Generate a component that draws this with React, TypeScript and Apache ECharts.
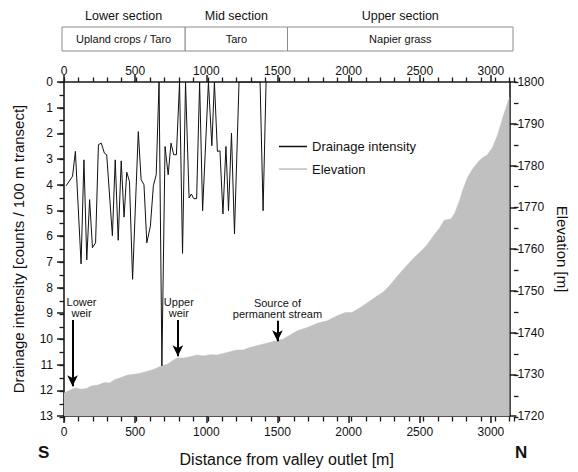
import React, { useEffect, useRef } from 'react';
import * as echarts from 'echarts';

// Drainage intensity (counts / 100 m transect) vs distance from valley outlet (m)
const drainDist = [15, 60, 80, 120, 140, 160, 180, 200, 222, 242, 262, 284, 300, 340, 360, 381, 402, 422, 441, 460, 482, 522, 542, 562, 582, 607, 628, 648, 668, 688, 710, 732, 752, 771, 790, 812, 833, 854, 879, 895, 912, 932, 953, 974, 1015, 1039, 1057, 1078, 1096, 1117, 1138, 1156, 1177, 1198, 1230, 1378, 1399, 1420];
const drainVal = [4.04, 3.67, 2.70, 7.08, 3.03, 6.92, 4.58, 6.45, 6.26, 2.44, 2.38, 2.77, 2.83, 5.98, 3.03, 6.16, 3.07, 5.26, 3.51, 3.87, 7.68, 1.93, 3.80, 4.00, 6.26, 5.61, 4.04, 3.61, 0, 11.05, 2.51, 3.61, 2.38, 2.83, 2.83, 0, 6.67, 0, 4.51, 4.36, 4.54, 4.54, 0, 5.01, 0, 2.48, 0, 2.70, 2.68, 5.14, 2.51, 5.01, 1.99, 5.91, 0, 0, 5.01, 0];

// Elevation profile (m)
const elevDist = [0, 30, 76, 123, 158, 192, 239, 285, 320, 355, 401, 447, 494, 529, 575, 633, 679, 726, 760, 795, 841, 888, 934, 981, 1027, 1073, 1120, 1166, 1212, 1259, 1305, 1351, 1398, 1444, 1490, 1537, 1583, 1641, 1711, 1780, 1850, 1919, 1977, 2024, 2082, 2140, 2197, 2244, 2290, 2348, 2406, 2464, 2510, 2545, 2591, 2638, 2672, 2719, 2745, 2782, 2800, 2835, 2870, 2916, 2951, 2974, 3009, 3044, 3079, 3102, 3130];
const elevVal = [1725.5, 1726.0, 1726.7, 1726.4, 1726.6, 1727.2, 1727.4, 1728.0, 1727.9, 1728.7, 1729.2, 1729.8, 1730.0, 1730.2, 1730.6, 1731.2, 1731.9, 1732.4, 1733.2, 1733.9, 1733.9, 1734.2, 1734.6, 1734.4, 1734.7, 1734.6, 1735.0, 1735.4, 1735.8, 1735.8, 1736.4, 1736.8, 1737.2, 1737.6, 1738.0, 1738.4, 1739.3, 1740.4, 1741.2, 1742.2, 1742.8, 1744.0, 1744.8, 1744.8, 1746.0, 1747.3, 1748.7, 1749.7, 1751.3, 1753.7, 1755.9, 1758.1, 1759.5, 1760.7, 1762.9, 1765.0, 1766.9, 1767.2, 1768.5, 1771.8, 1773.9, 1777.1, 1779.1, 1781.1, 1782.1, 1782.5, 1784.2, 1787.0, 1791.0, 1793.4, 1796.3];

// Sections band
const sectionStart = [0, 855, 1565];
const sectionEnd = [855, 1565, 3130];
const sectionNames = ['Lower section', 'Mid section', 'Upper section'];
const sectionCrops = ['Upland crops / Taro', 'Taro', 'Napier grass'];

// Annotations (arrows)
const annotDist = [60, 800, 1500];
const annotTop = [1743.0, 1743.0, 1742.8];
const annotBottom = [1727.1, 1734.3, 1737.9];
const annotText = ['Lower\nweir', 'Upper\nweir', 'Source of\npermanent stream'];
const annotShift = [9, 1, 0];

const FONT = '"Liberation Sans", Arial, Helvetica, sans-serif';
const AXIS_COLOR = '#1a1a1a';
const plain = (v: number) => String(v);

export default function App() {
  const ref = useRef<HTMLDivElement>(null);

  useEffect(() => {
    if (!ref.current) return;
    const chart = echarts.init(ref.current, undefined, { renderer: 'svg' });

    const lineStyle = { color: AXIS_COLOR, width: 1.6 };
    const tickStyle = { color: AXIS_COLOR, width: 1.5 };
    const minorStyle = { color: AXIS_COLOR, width: 1.3 };
    const MAJOR = 7;
    const MINOR = 4.5;

    const xCommon = {
      type: 'value',
      gridIndex: 0,
      min: 0,
      max: 3130,
      interval: 500,
      axisLine: { show: true, onZero: false, lineStyle },
      axisTick: { show: true, length: MAJOR, lineStyle: tickStyle },
      splitLine: { show: false },
    };

    // minor-tick axes on an overlapping grid (grid 2)
    const minorX = (position: string) => ({
      type: 'value',
      gridIndex: 2,
      position,
      min: 0,
      max: 3130,
      interval: 100,
      axisLine: { show: false, onZero: false },
      axisTick: { show: true, length: MINOR, lineStyle: minorStyle },
      axisLabel: { show: false },
      splitLine: { show: false },
    });

    const option: any = {
      animation: false,
      backgroundColor: '#fff',
      textStyle: { fontFamily: FONT },
      grid: [
        { left: 64, right: 64, top: 82, bottom: 55 },
        { left: 62, right: 65, top: 27, height: 24 },
        { left: 64, right: 64, top: 82, bottom: 55 },
      ],
      legend: {
        orient: 'vertical',
        left: 274,
        top: 135,
        itemWidth: 28,
        itemHeight: 1.5,
        itemGap: 9.6,
        icon: 'rect',
        textStyle: { fontSize: 13, color: '#111', fontFamily: FONT },
        data: [
          { name: 'Drainage intensity', itemStyle: { color: '#111' } },
          { name: 'Elevation', itemStyle: { color: '#bdbdbd' } },
        ],
      },
      xAxis: [
        {
          ...xCommon,
          position: 'bottom',
          axisLabel: { fontSize: 12, color: '#111', margin: 10, showMaxLabel: false, formatter: plain },
          name: 'Distance from valley outlet [m]',
          nameLocation: 'middle',
          nameGap: 35,
          nameTextStyle: { fontSize: 16, color: '#111' },
        },
        {
          ...xCommon,
          position: 'top',
          axisLabel: { fontSize: 12, color: '#111', margin: 5, showMaxLabel: false, formatter: plain },
        },
        {
          type: 'value',
          gridIndex: 1,
          min: 0,
          max: 3130,
          show: false,
        },
        minorX('bottom'),
        minorX('top'),
      ],
      yAxis: [
        {
          type: 'value',
          gridIndex: 0,
          position: 'left',
          inverse: true,
          min: 0,
          max: 13,
          interval: 1,
          axisLine: { show: true, onZero: false, lineStyle },
          axisTick: { show: true, length: MAJOR, lineStyle: tickStyle },
          splitLine: { show: false },
          axisLabel: { fontSize: 12, color: '#111', margin: 11, formatter: plain },
          name: 'Drainage intensity [counts / 100 m transect]',
          nameLocation: 'middle',
          nameGap: 38,
          nameTextStyle: { fontSize: 15, color: '#111' },
        },
        {
          type: 'value',
          gridIndex: 0,
          position: 'right',
          min: 1720,
          max: 1800,
          interval: 10,
          axisLine: { show: true, onZero: false, lineStyle },
          axisTick: { show: true, length: MAJOR, lineStyle: tickStyle },
          splitLine: { show: false },
          axisLabel: { fontSize: 12, color: '#111', margin: 8, formatter: plain },
          name: 'Elevation [m]',
          nameLocation: 'middle',
          nameRotate: -90,
          nameGap: 40,
          nameTextStyle: { fontSize: 15, color: '#111' },
        },
        {
          type: 'value',
          gridIndex: 1,
          min: 0,
          max: 1,
          show: false,
        },
        {
          type: 'value',
          gridIndex: 2,
          position: 'left',
          inverse: true,
          min: 0,
          max: 13,
          interval: 0.5,
          axisLine: { show: false, onZero: false },
          axisTick: { show: true, length: MINOR, lineStyle: minorStyle },
          axisLabel: { show: false },
          splitLine: { show: false },
        },
        {
          type: 'value',
          gridIndex: 2,
          position: 'right',
          min: 1720,
          max: 1800,
          interval: 5,
          axisLine: { show: false, onZero: false },
          axisTick: { show: true, length: MINOR, lineStyle: minorStyle },
          axisLabel: { show: false },
          splitLine: { show: false },
        },
      ],
      series: [
        {
          name: 'Elevation',
          type: 'line',
          xAxisIndex: 0,
          yAxisIndex: 1,
          data: elevDist.map((d, i) => [d, elevVal[i]]),
          symbol: 'none',
          color: '#bdbdbd',
          lineStyle: { width: 0.5, color: '#c0c0c0' },
          areaStyle: { color: '#c0c0c0', opacity: 1, origin: 'start' },
          z: 1,
          silent: true,
          markLine: {
            silent: true,
            symbol: ['none', 'arrow'],
            symbolSize: [8, 11],
            lineStyle: { color: '#000', width: 2, type: 'solid' },
            label: {
              show: true,
              position: 'start',
              formatter: '{b}',
              fontSize: 11,
              lineHeight: 10.6,
              color: '#111',
              distance: 2,
              fontFamily: FONT,
            },
            data: annotDist.map((d, i) => [
              { coord: [d, annotTop[i]], name: annotText[i], label: { offset: [annotShift[i], 0] } },
              { coord: [d, annotBottom[i]] },
            ]),
          },
        },
        {
          name: 'Drainage intensity',
          type: 'line',
          xAxisIndex: 0,
          yAxisIndex: 0,
          data: drainDist.map((d, i) => [d, drainVal[i]]),
          symbol: 'none',
          color: '#111',
          lineStyle: { width: 1, color: '#111' },
          z: 3,
          silent: true,
        },
        {
          name: 'Sections',
          type: 'custom',
          xAxisIndex: 2,
          yAxisIndex: 2,
          silent: true,
          data: sectionStart.map((s, i) => [s, sectionEnd[i], i]),
          renderItem: (params: any, api: any) => {
            const s = api.value(0);
            const e = api.value(1);
            const idx = api.value(2);
            const p0 = api.coord([s, 1]);
            const p1 = api.coord([e, 0]);
            const cx = (p0[0] + p1[0]) / 2;
            return {
              type: 'group',
              children: [
                {
                  type: 'rect',
                  shape: { x: p0[0], y: p0[1], width: p1[0] - p0[0], height: p1[1] - p0[1] },
                  style: { fill: '#fff', stroke: '#8c8c8c', lineWidth: 1 },
                },
                {
                  type: 'text',
                  x: cx,
                  y: (p0[1] + p1[1]) / 2,
                  style: {
                    text: sectionCrops[idx],
                    align: 'center',
                    verticalAlign: 'middle',
                    fontSize: 11,
                    fontFamily: FONT,
                    fill: '#111',
                  },
                },
                {
                  type: 'text',
                  x: cx,
                  y: p0[1] - 11,
                  style: {
                    text: sectionNames[idx],
                    align: 'center',
                    verticalAlign: 'middle',
                    fontSize: 12.5,
                    fontFamily: FONT,
                    fill: '#111',
                  },
                },
              ],
            };
          },
        },
      ],
      graphic: [
        {
          type: 'text',
          left: 38,
          top: 444,
          style: { text: 'S', fontSize: 17, fontWeight: 'bold', fontFamily: FONT, fill: '#111' },
        },
        {
          type: 'text',
          left: 515,
          top: 444,
          style: { text: 'N', fontSize: 17, fontWeight: 'bold', fontFamily: FONT, fill: '#111' },
        },
      ],
    };

    chart.setOption(option);
    return () => chart.dispose();
  }, []);

  return (
    <div
      ref={ref}
      style={{ position: 'fixed', left: 0, top: 0, width: 578, height: 472, background: '#fff' }}
    />
  );
}
